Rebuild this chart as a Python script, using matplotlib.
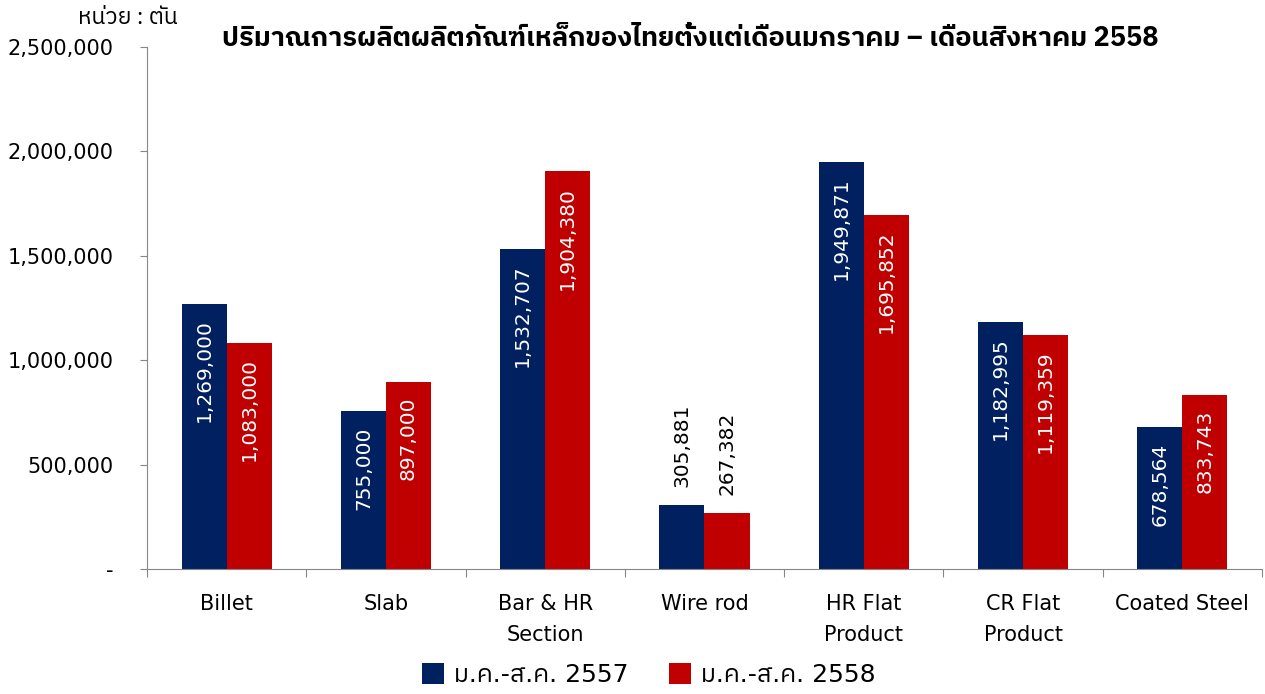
import matplotlib
matplotlib.use("Agg")
import matplotlib.pyplot as plt
from matplotlib import font_manager
from matplotlib.ticker import FixedLocator, FuncFormatter
from matplotlib.ft2font import FT2Font
import numpy as np

# --- dati ---
categories = ["Billet", "Slab", "Bar & HR\nSection", "Wire rod",
              "HR Flat\nProduct", "CR Flat\nProduct", "Coated Steel"]
prod_2557 = [1269000, 755000, 1532707, 305881, 1949871, 1182995, 678564]
prod_2558 = [1083000, 897000, 1904380, 267382, 1695852, 1119359, 833743]
series_names = ["ม.ค.-ส.ค. 2557", "ม.ค.-ส.ค. 2558"]
label_outside = ["Wire rod"]

# cerca un font che abbia i glifi thai
thai_font = None
for f in font_manager.fontManager.ttflist:
    try:
        if ord("ก") in FT2Font(f.fname).get_charmap():
            thai_font = f.name
            if "Sans" in f.name or "Tahoma" in f.name:
                break
    except Exception:
        pass
thai = [thai_font] if thai_font else []
plt.rcParams["font.family"] = ["DejaVu Sans"] + thai

blue = "#002060"
red = "#C00000"

fig = plt.figure(figsize=(12.65, 6.94), dpi=100)
ax = fig.add_axes([0.1162, 0.1801, 0.8814, 0.7522])

x = np.arange(len(categories))
w = 0.283
b1 = ax.bar(x - w / 2, prod_2557, w, color=blue, label=series_names[0])
b2 = ax.bar(x + w / 2, prod_2558, w, color=red, label=series_names[1])

ax.set_xlim(-0.5, len(categories) - 0.5)
ax.set_ylim(0, 2500000)

for bars, vals in ((b1, prod_2557), (b2, prod_2558)):
    for rect, v, cat in zip(bars, vals, categories):
        cx = rect.get_x() + rect.get_width() / 2
        if cat in label_outside:
            ax.annotate(f"{v:,}", (cx, v), xytext=(0, 13), textcoords="offset points",
                        rotation=90, ha="center", va="bottom", fontsize=14.5, color="black")
        else:
            ax.annotate(f"{v:,}", (cx, v), xytext=(0, -11), textcoords="offset points",
                        rotation=90, ha="center", va="top", fontsize=14.5, color="white")

# assi
for s in ("top", "right"):
    ax.spines[s].set_visible(False)
ax.spines["left"].set_color("#868686")
ax.spines["bottom"].set_color("#868686")

ax.yaxis.set_major_locator(FixedLocator(np.arange(0, 2500001, 500000)))
ax.yaxis.set_major_formatter(FuncFormatter(lambda v, p: "-" if v == 0 else f"{int(v):,}"))
ax.tick_params(axis="y", direction="out", length=5, color="#868686", labelsize=15, pad=19)

ax.set_xticks(np.arange(-0.5, len(categories), 1.0))
ax.set_xticklabels([])
ax.set_xticks(x, minor=True)
ax.set_xticklabels(categories, minor=True, fontsize=15, linespacing=1.7)
ax.tick_params(axis="x", which="major", direction="out", length=6, color="#868686")
ax.tick_params(axis="x", which="minor", length=0, pad=18)

fig.text(0.1407, 0.974, "หน่วย : ตัน", fontsize=16.5, ha="right", va="center", family=thai + ["DejaVu Sans"])
fig.text(0.546, 0.945, "ปริมาณการผลิตผลิตภัณฑ์เหล็กของไทยตั้งแต่เดือนมกราคม – เดือนสิงหาคม 2558",
         fontsize=19.5, fontweight="bold", ha="center", va="center", family=thai + ["DejaVu Sans"])

fig.legend(handles=[b1, b2], loc="center", bbox_to_anchor=(0.513, 0.027), ncol=2,
           frameon=False, fontsize=18, handlelength=0.9, handleheight=0.9,
           handletextpad=0.4, columnspacing=1.6)

fig.savefig("out.png", dpi=100)
